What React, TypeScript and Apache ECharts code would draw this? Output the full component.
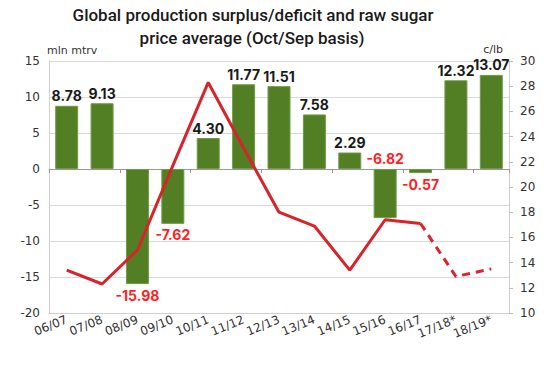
import React, { useEffect, useRef } from 'react';
import * as echarts from 'echarts';

const categories = ['06/07', '07/08', '08/09', '09/10', '10/11', '11/12', '12/13', '13/14', '14/15', '15/16', '16/17', '17/18*', '18/19*'];
const surplus = [8.78, 9.13, -15.98, -7.62, 4.3, 11.77, 11.51, 7.58, 2.29, -6.82, -0.57, 12.32, 13.07];
const price = [13.4, 12.3, 15.0, 21.7, 28.3, 23.1, 18.0, 16.9, 13.4, 17.4, 17.1, 12.9, 13.5];
const lastActualIndex = 10;
const labelAboveZero = ['15/16'];
const titleLines = ['Global production surplus/deficit and raw sugar', 'price average (Oct/Sep basis)'];
const leftUnit = 'mln mtrv';
const rightUnit = 'c/lb';

const GREEN = '#527f24';
const RED = '#d8232a';
const LABEL_RED = '#ff1f1f';
const FONT = 'DejaVu Sans';

export default function App() {
  const ref = useRef<HTMLDivElement>(null);
  useEffect(() => {
    if (!ref.current) return;
    const chart = echarts.init(ref.current, undefined, { renderer: 'svg' });
    const barData = surplus.map((v, i) => {
      const neg = v < 0;
      const above = labelAboveZero.includes(categories[i]);
      return {
        value: v,
        label: {
          show: true,
          position: neg && !above ? 'bottom' : 'top',
          distance: neg ? 4 : 3,
          color: neg ? LABEL_RED : '#1a1a1a',
          fontWeight: 'bold',
          fontSize: 14,
          fontFamily: 'Inter',
          formatter: () => v.toFixed(2),
        },
      };
    });
    const solid = price.map((v, i) => (i <= lastActualIndex ? v : '-'));
    const dashed = price.map((v, i) => (i >= lastActualIndex ? v : '-'));
    chart.setOption({
      animation: false,
      textStyle: { fontFamily: FONT },
      grid: { left: 49, right: 45, top: 61, bottom: 57, containLabel: false },
      graphic: [
        {
          type: 'text',
          x: 253,
          y: 15,
          style: { text: titleLines[0], textAlign: 'center', textVerticalAlign: 'middle', font: '500 17px Roboto', fill: '#1a1a1a' },
        },
        {
          type: 'text',
          x: 252,
          y: 38,
          style: { text: titleLines[1], textAlign: 'center', textVerticalAlign: 'middle', font: '500 17px Roboto', fill: '#1a1a1a' },
        },
        {
          type: 'text',
          x: 47,
          y: 50,
          style: { text: leftUnit, textAlign: 'left', textVerticalAlign: 'middle', font: '11px "DejaVu Sans"', fill: '#333' },
        },
        {
          type: 'text',
          x: 503,
          y: 49,
          style: { text: rightUnit, textAlign: 'right', textVerticalAlign: 'middle', font: '11px "DejaVu Sans"', fill: '#333' },
        },
      ],
      xAxis: [
        {
          type: 'category',
          data: categories,
          position: 'bottom',
          axisLine: { onZero: false, lineStyle: { color: '#cfcfcf' } },
          axisTick: { show: false },
          axisLabel: { rotate: 22, margin: 6, fontSize: 12, color: '#333', fontFamily: FONT, interval: 0 },
        },
        {
          type: 'category',
          data: categories,
          position: 'top',
          axisLine: { onZero: true, onZeroAxisIndex: 0, lineStyle: { color: '#999' } },
          axisTick: { show: true, inside: true, length: 4, lineStyle: { color: '#999' } },
          axisLabel: { show: false },
        },
      ],
      yAxis: [
        {
          type: 'value',
          min: -20,
          max: 15,
          interval: 5,
          axisLine: { show: true, lineStyle: { color: '#cfcfcf' } },
          axisTick: { show: false },
          axisLabel: { fontSize: 12, color: '#333', margin: 9, fontFamily: FONT },
          splitLine: { lineStyle: { color: '#d9d9d9' } },
        },
        {
          type: 'value',
          min: 10,
          max: 30,
          interval: 2,
          position: 'right',
          axisLine: { show: true, lineStyle: { color: '#cfcfcf' } },
          axisTick: { show: true, length: 4, lineStyle: { color: '#bbb' } },
          axisLabel: { fontSize: 12, color: '#333', margin: 11, fontFamily: FONT },
          splitLine: { show: false },
        },
      ],
      series: [
        {
          type: 'bar',
          xAxisIndex: 0,
          yAxisIndex: 0,
          data: barData,
          barWidth: '65%',
          itemStyle: { color: GREEN, borderColor: '#6f9a45', borderWidth: 1 },
          z: 2,
        },
        {
          type: 'line',
          xAxisIndex: 0,
          yAxisIndex: 1,
          data: solid,
          symbol: 'none',
          lineStyle: { color: RED, width: 3 },
          z: 3,
        },
        {
          type: 'line',
          xAxisIndex: 0,
          yAxisIndex: 1,
          data: dashed,
          symbol: 'none',
          lineStyle: { color: RED, width: 3, type: [8, 6] },
          z: 3,
        },
      ],
    });
    return () => chart.dispose();
  }, []);
  return <div ref={ref} style={{ width: 554, height: 370, position: 'absolute', left: 0, top: 0 }} />;
}
